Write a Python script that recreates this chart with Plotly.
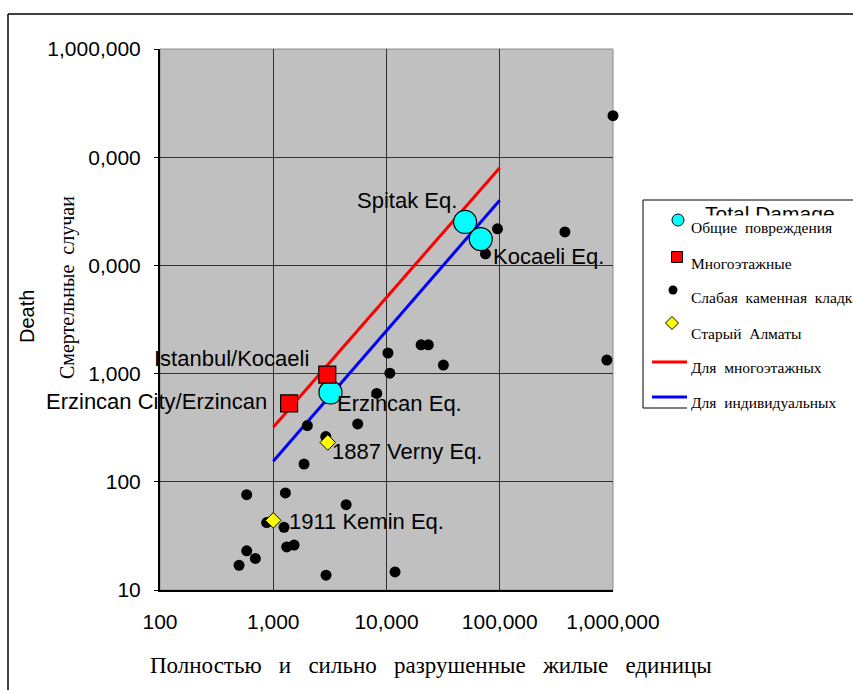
import numpy as np
import plotly.graph_objects as go

# ---- data: totally/heavily damaged dwelling units vs. deaths ----
total_names = ["Spitak Eq.", "Kocaeli Eq.", "Erzincan Eq."]
total_units = [49400, 68000, 3200]
total_deaths = [25200, 17500, 670]

multi_names = ["Istanbul/Kocaeli", "Erzincan City/Erzincan"]
multi_units = [3000, 1380]
multi_deaths = [980, 530]

masonry_units = [1000000, 95500, 376000, 74800, 10300, 20200, 23400, 31800,
                 883000, 10700, 8200, 2000, 5570, 2910, 1870, 583, 1280, 4400,
                 875, 1245, 1315, 1528, 583, 695, 499, 2925, 11900]
masonry_deaths = [242000, 21800, 20400, 12800, 1550, 1845, 1845, 1200,
                  1334, 1010, 655, 331, 343, 262, 146, 76, 79, 61.5,
                  42, 38, 25, 26, 23, 19.6, 16.9, 13.7, 14.7]

almaty_names = ["1887 Verny Eq.", "1911 Kemin Eq."]
almaty_units = [3030, 1000]
almaty_deaths = [231, 44]

line_units = [1000, 100000]
multi_line_deaths = [320, 80000]
indiv_line_deaths = [155, 40000]

x_tick_vals = [100, 1000, 10000, 100000, 1000000]
x_tick_text = ["100", "1,000", "10,000", "100,000", "1,000,000"]
y_tick_vals = [10, 100, 1000, 10000, 100000, 1000000]
y_tick_text = ["10", "100", "1,000", "10,000", "100,000", "1,000,000"]

NB2 = "\u00a0\u00a0"
legend_labels = ["Общие" + NB2 + "повреждения", "Многоэтажные",
                 "Слабая" + NB2 + "каменная" + NB2 + "кладка",
                 "Старый" + NB2 + "Алматы", "Для" + NB2 + "многоэтажных",
                 "Для" + NB2 + "индивидуальных"]

# ---- page geometry (pixels) ----
W, H = 853, 690
L, T, R, B = 160, 49, 613, 590


def px(x):
    return (x - L) / (R - L)


def py(y):
    return (B - y) / (B - T)


SANS = "Liberation Sans, Arial, sans-serif"
SERIF = "Liberation Serif, Times New Roman, serif"

fig = go.Figure()

# regression lines
fig.add_trace(go.Scatter(x=line_units, y=multi_line_deaths, mode="lines",
                         line=dict(color="#FF0000", width=3), cliponaxis=False))
fig.add_trace(go.Scatter(x=line_units, y=indiv_line_deaths, mode="lines",
                         line=dict(color="#0000FF", width=3), cliponaxis=False))
# weak masonry
fig.add_trace(go.Scatter(x=masonry_units, y=masonry_deaths, mode="markers",
                         marker=dict(color="black", size=11, line=dict(width=0)),
                         cliponaxis=False))
# old Almaty
fig.add_trace(go.Scatter(x=almaty_units, y=almaty_deaths, mode="markers",
                         marker=dict(symbol="diamond", color="#FFFF00", size=12,
                                     line=dict(color="black", width=1)),
                         cliponaxis=False))
# total damage
fig.add_trace(go.Scatter(x=total_units, y=total_deaths, mode="markers",
                         marker=dict(color="#00FFFF", size=23,
                                     line=dict(color="black", width=1.2)),
                         cliponaxis=False))
# multi-storey
fig.add_trace(go.Scatter(x=multi_units, y=multi_deaths, mode="markers",
                         marker=dict(symbol="square", color="#FF0000", size=17,
                                     line=dict(color="black", width=1.2)),
                         cliponaxis=False))

annotations = []

# point labels (anchor side, x shift, y shift)
label_style = {
    "Spitak Eq.": ("right", -6, 21),
    "Kocaeli Eq.": ("left", 10, -17),
    "Erzincan Eq.": ("left", 5, -11),
    "Istanbul/Kocaeli": ("right", -16, 16),
    "Erzincan City/Erzincan": ("right", -20, 2),
    "1887 Verny Eq.": ("left", 2, -9),
    "1911 Kemin Eq.": ("left", 14, -1),
}
for names, xs, ys in [(total_names, total_units, total_deaths),
                      (multi_names, multi_units, multi_deaths),
                      (almaty_names, almaty_units, almaty_deaths)]:
    for n, xv, yv in zip(names, xs, ys):
        anc, dx, dy = label_style[n]
        annotations.append(dict(
            x=np.log10(xv), y=np.log10(yv), xref="x", yref="y", text=n,
            showarrow=False, xanchor=anc, yanchor="middle", xshift=dx, yshift=dy,
            font=dict(family=SANS, size=22, color="black")))

shapes = []
# thin grey frame round the plotting area, under the markers
shapes.append(dict(type="rect", xref="paper", yref="paper", x0=0, x1=1, y0=0, y1=1,
                   line=dict(color="#8C8C8C", width=1), layer="between"))
# outer frame of the figure
shapes.append(dict(type="line", xref="paper", yref="paper", x0=px(8), x1=px(870),
                   y0=py(14), y1=py(14), line=dict(color="black", width=1.5)))
shapes.append(dict(type="line", xref="paper", yref="paper", x0=px(8), x1=px(8),
                   y0=py(14), y1=py(700), line=dict(color="black", width=1.5)))
# text box of the Russian axis title
shapes.append(dict(type="rect", xref="paper", yref="paper", x0=px(48), x1=px(88),
                   y0=py(392), y1=py(136), fillcolor="white",
                   line=dict(width=0), layer="above"))

# legend frame
shapes.append(dict(type="line", xref="paper", yref="paper", x0=px(643), x1=px(870),
                   y0=py(200), y1=py(200), line=dict(color="black", width=1)))
shapes.append(dict(type="line", xref="paper", yref="paper", x0=px(643), x1=px(643),
                   y0=py(200), y1=py(408), line=dict(color="black", width=1)))
shapes.append(dict(type="line", xref="paper", yref="paper", x0=px(643), x1=px(687),
                   y0=py(408), y1=py(408), line=dict(color="black", width=1)))

# legend symbols
shapes.append(dict(type="circle", xref="paper", yref="paper",
                   x0=px(672), x1=px(684), y0=py(226), y1=py(214),
                   fillcolor="#00FFFF", line=dict(color="black", width=1)))
shapes.append(dict(type="rect", xref="paper", yref="paper",
                   x0=px(671.5), x1=px(682.5), y0=py(262.5), y1=py(251.5),
                   fillcolor="#FF0000", line=dict(color="black", width=1)))
shapes.append(dict(type="circle", xref="paper", yref="paper",
                   x0=px(668.5), x1=px(677.5), y0=py(294.5), y1=py(285.5),
                   fillcolor="black", line=dict(color="black", width=0)))
dpath = "M {a},{b} L {c},{d} L {a},{e} L {f},{d} Z".format(
    a=px(672), b=py(316.5), c=px(678.5), d=py(323), e=py(329.5), f=px(665.5))
shapes.append(dict(type="path", xref="paper", yref="paper", path=dpath,
                   fillcolor="#FFFF00", line=dict(color="black", width=1)))
shapes.append(dict(type="line", xref="paper", yref="paper", x0=px(652), x1=px(687),
                   y0=py(362), y1=py(362), line=dict(color="#FF0000", width=3)))
shapes.append(dict(type="line", xref="paper", yref="paper", x0=px(652), x1=px(687),
                   y0=py(397), y1=py(397), line=dict(color="#0000FF", width=3)))

# English legend heading, partly hidden by the Russian entries
annotations.append(dict(x=px(703), y=py(227), xref="paper", yref="paper",
                        text="Total Damage", showarrow=False, xanchor="left",
                        yanchor="bottom", font=dict(family=SANS, size=21, color="black")))
legend_y = [228, 263, 297, 333, 367, 402]
legend_w = [150, 150, 210, 150, 150, 175]
for lab, ly, lw in zip(legend_labels, legend_y, legend_w):
    annotations.append(dict(x=px(687), y=py(ly), xref="paper", yref="paper",
                            text=lab, showarrow=False, xanchor="left", yanchor="middle",
                            align="left", width=lw,
                            bgcolor="white", borderpad=3,
                            font=dict(family=SERIF, size=15.5, color="black")))

# axis titles
annotations.append(dict(x=px(27), y=py(317), xref="paper", yref="paper", text="Death",
                        textangle=-90, showarrow=False, xanchor="center",
                        yanchor="middle", font=dict(family=SANS, size=20, color="black")))
annotations.append(dict(x=px(67), y=py(288), xref="paper", yref="paper",
                        text="Смертельные" + NB2 + "случаи", textangle=-90,
                        showarrow=False, xanchor="center", yanchor="middle",
                        font=dict(family=SERIF, size=20, color="black")))
NB3 = "\u00a0\u00a0\u00a0"
annotations.append(dict(x=px(431), y=py(665), xref="paper", yref="paper",
                        text=NB3.join(["Полностью", "и", "сильно", "разрушенные",
                                       "жилые", "единицы"]),
                        showarrow=False, xanchor="center", yanchor="middle",
                        font=dict(family=SERIF, size=23, color="black")))

fig.update_layout(
    width=W, height=H,
    margin=dict(l=L, r=W - R, t=T, b=H - B, pad=0),
    paper_bgcolor="white", plot_bgcolor="#C0C0C0",
    showlegend=False,
    shapes=shapes, annotations=annotations,
)
fig.update_xaxes(type="log", range=[2, 6], tickvals=x_tick_vals, ticktext=x_tick_text,
                 showgrid=True, gridcolor="#303030", gridwidth=1,
                 showline=True, linecolor="black", linewidth=2, ticks="",
                 ticklabelstandoff=12, zeroline=False,
                 tickfont=dict(family=SANS, size=21, color="black"))
fig.update_yaxes(type="log", range=[1, 6], tickvals=y_tick_vals, ticktext=y_tick_text,
                 showgrid=True, gridcolor="#303030", gridwidth=1,
                 showline=True, linecolor="black", linewidth=2,
                 ticks="outside", ticklen=4, tickcolor="black", tickwidth=1,
                 ticklabelstandoff=9, zeroline=False,
                 tickfont=dict(family=SANS, size=21, color="black"))

fig.write_html("out.html")
